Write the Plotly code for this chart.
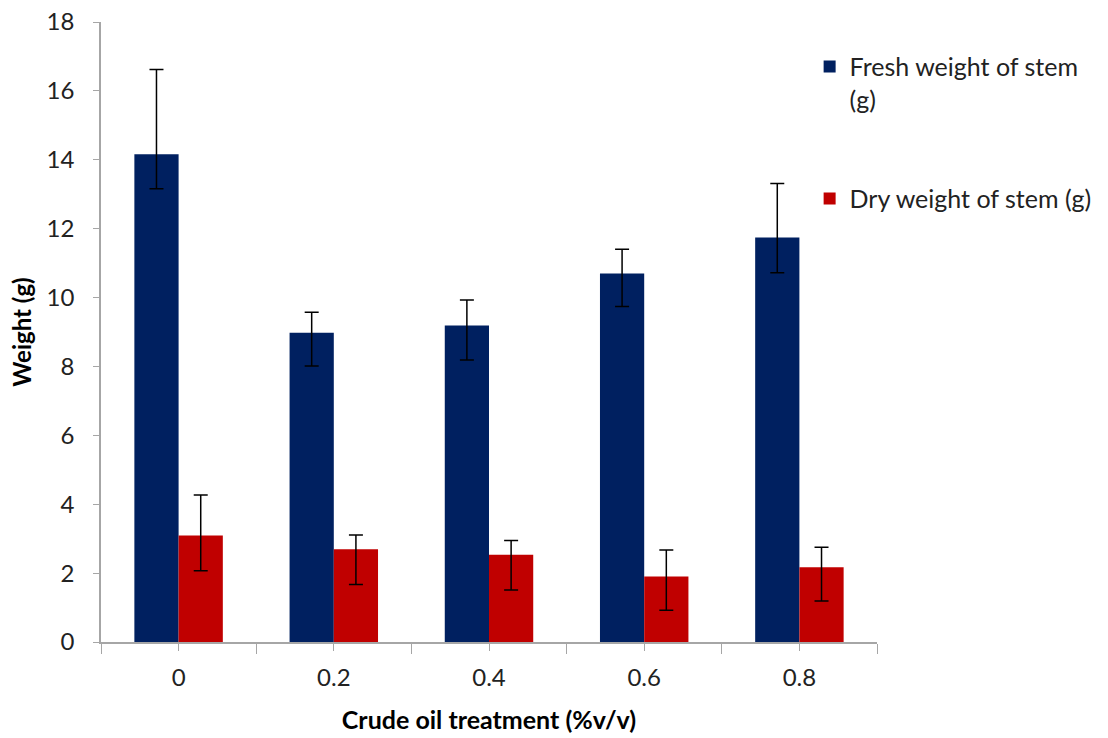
import plotly.graph_objects as go

treatment = [0, 0.2, 0.4, 0.6, 0.8]
tick_labels = ["0", "0.2", "0.4", "0.6", "0.8"]

fresh = [14.16, 8.98, 9.19, 10.70, 11.74]
fresh_err_plus = [2.46, 0.59, 0.74, 0.70, 1.57]
fresh_err_minus = [1.00, 0.97, 1.00, 0.96, 1.02]

dry = [3.09, 2.69, 2.53, 1.90, 2.17]
dry_err_plus = [1.18, 0.42, 0.42, 0.77, 0.58]
dry_err_minus = [1.02, 1.02, 1.02, 0.98, 0.98]

boundaries = [-0.1, 0.1, 0.3, 0.5, 0.7, 0.9]

FONT = "Lato, 'Open Sans', sans-serif"

fig = go.Figure()
fig.add_trace(go.Bar(
    x=treatment, y=fresh, name="Fresh weight of stem<br>(g)",
    marker=dict(color="#002060", line=dict(width=0)),
    error_y=dict(type="data", symmetric=False, array=fresh_err_plus,
                 arrayminus=fresh_err_minus, color="black", thickness=1.5, width=7),
    legend="legend", showlegend=True,
))
fig.add_trace(go.Bar(
    x=treatment, y=dry, name="Dry weight of stem (g)",
    marker=dict(color="#C00000", line=dict(width=0)),
    error_y=dict(type="data", symmetric=False, array=dry_err_plus,
                 arrayminus=dry_err_minus, color="black", thickness=1.5, width=7),
    legend="legend2", showlegend=True,
))

fig.update_layout(
    width=1108, height=738,
    margin=dict(l=101, r=230, t=22, b=96),
    paper_bgcolor="white", plot_bgcolor="white",
    barmode="group", bargap=0.43, bargroupgap=0,
    showlegend=True,
    font=dict(family=FONT, size=24, color="#222222"),
    legend=dict(x=0.912, y=0.965, xanchor="left", yanchor="top", visible=True, valign="top",
                font=dict(size=25, color="#222222"), bgcolor="rgba(0,0,0,0)"),
    legend2=dict(x=0.912, y=0.752, xanchor="left", yanchor="top", visible=True,
                 font=dict(size=25, color="#222222"), bgcolor="rgba(0,0,0,0)"),
)

fig.update_xaxes(
    range=[-0.1, 0.9], automargin=False,
    tickmode="array", tickvals=treatment, ticktext=tick_labels,
    ticks="outside", ticklen=7, tickcolor="#a6a6a6", tickwidth=1,
    minor=dict(tickmode="array", tickvals=boundaries, ticks="outside",
               ticklen=10, tickcolor="#a6a6a6", tickwidth=1),
    showline=True, linecolor="#a6a6a6", linewidth=1.5,
    showgrid=False, zeroline=False,
    tickfont=dict(size=24, color="#222222"),
    ticklabelstandoff=6, ticklabeloverflow="allow",
    title=dict(text="<b>Crude oil treatment (%v/v)</b>", font=dict(size=25, color="black"), standoff=22),
)
fig.update_yaxes(
    range=[0, 18], dtick=2, automargin=False,
    ticks="outside", ticklen=6, tickcolor="#a6a6a6", tickwidth=1,
    showline=True, linecolor="#a6a6a6", linewidth=1.5,
    showgrid=False, zeroline=False,
    tickfont=dict(size=24, color="#222222"),
    ticklabelstandoff=14, ticklabeloverflow="allow",
    title=dict(text="<b>Weight (g)</b>", font=dict(size=24, color="black"), standoff=8),
)

fig.write_html("out.html", config={"displayModeBar": False},
               post_script="document.body.style.margin='0px';")
